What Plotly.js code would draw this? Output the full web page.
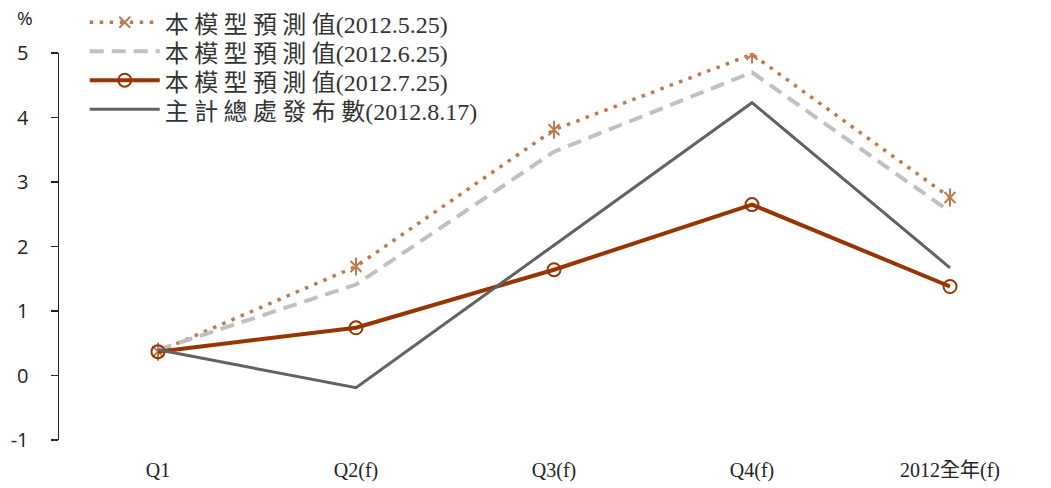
<!DOCTYPE html>
<html>
<head>
<meta charset="utf-8">
<script src="https://cdn.plot.ly/plotly-3.0.1.min.js"></script>
<style>
  html, body { margin: 0; padding: 0; background: #fff; }
  #chart { width: 1051px; height: 488px; }
</style>
</head>
<body>
<div id="chart"></div>
<script>
// 2012 quarterly GDP growth forecasts (%)
const categories = ['Q1', 'Q2(f)', 'Q3(f)', 'Q4(f)', '2012全年(f)'];

const seriesLabels = ['本模型預測值', '本模型預測值', '本模型預測值', '主計總處發布數'];
const seriesDates = ['(2012.5.25)', '(2012.6.25)', '(2012.7.25)', '(2012.8.17)'];

const model0525 = [0.37, 1.69, 3.81, 4.98, 2.76];
const model0625 = [0.40, 1.41, 3.47, 4.70, 2.54];
const model0725 = [0.37, 0.74, 1.64, 2.65, 1.38];
const dgbas0817 = [0.40, -0.19, 2.02, 4.23, 1.67];

const yTicks = [-1, 0, 1, 2, 3, 4, 5];

const serif = 'Liberation Serif, Times New Roman, Noto Sans CJK TC, serif';
const sans = 'Open Sans, DejaVu Sans, sans-serif';

// legend label: spaced-out CJK part followed by the release date
function legendName(i) {
  const label = seriesLabels[i];
  return '<span style="font-size:24px;baseline-shift:-3px">' +
    '<span style="letter-spacing:5.4px">' + label.slice(0, -1) + '</span>' +
    label.slice(-1) + seriesDates[i] + '</span>';
}

const orange = '#C0784E';

const traces = [
  {
    x: categories, y: model0525, name: legendName(0),
    type: 'scatter', mode: 'lines+markers', legendgroup: 'a',
    line: { color: orange, width: 3.5, dash: '3.5px,6.5px' },
    marker: { symbol: 'x-thin-open', size: 11, color: orange,
              line: { color: orange, width: 2 } }
  },
  {
    // vertical stroke completing the asterisk marker
    x: categories, y: model0525, name: legendName(0),
    type: 'scatter', mode: 'markers', legendgroup: 'a', showlegend: false,
    marker: { symbol: 'line-ns-open', size: 13, color: orange,
              line: { color: orange, width: 2 } }
  },
  {
    x: categories, y: model0625, name: legendName(1),
    type: 'scatter', mode: 'lines',
    line: { color: '#C0C0C2', width: 4, dash: '14px,8px' }
  },
  {
    x: categories, y: model0725, name: legendName(2),
    type: 'scatter', mode: 'lines+markers',
    line: { color: '#963500', width: 4 },
    marker: { symbol: 'circle-open', size: 13, color: '#963500',
              line: { color: '#963500', width: 2 } }
  },
  {
    x: categories, y: dgbas0817, name: legendName(3),
    type: 'scatter', mode: 'lines',
    line: { color: '#626262', width: 3 }
  }
];

const layout = {
  width: 1051,
  height: 488,
  margin: { l: 59, r: 2, t: 53, b: 48 },
  paper_bgcolor: '#ffffff',
  plot_bgcolor: '#ffffff',
  showlegend: true,
  legend: {
    x: 0.026, y: 1.13, xanchor: 'left', yanchor: 'top',
    bgcolor: 'rgba(0,0,0,0)',
    font: { family: serif, size: 20, color: '#333333' },
    itemwidth: 70,
    tracegroupgap: 0
  },
  xaxis: {
    type: 'category',
    categoryorder: 'array',
    categoryarray: categories,
    range: [-0.5, categories.length - 0.5],
    showline: false, showgrid: false, zeroline: false,
    ticks: '',
    ticklabelstandoff: 16,
    tickfont: { family: serif, size: 20, color: '#222222' }
  },
  // axis line with category-boundary ticks crossing at y = 0
  xaxis2: {
    overlaying: 'x',
    anchor: 'free',
    position: (0 - yTicks[0]) / (yTicks[yTicks.length - 1] - yTicks[0]),
    range: [-0.5, categories.length - 0.5],
    tickmode: 'array',
    tickvals: categories.map((c, i) => i + 0.5),
    showticklabels: false,
    showline: true, linecolor: '#222222', linewidth: 1.5,
    ticks: 'outside', ticklen: 6, tickwidth: 1.5, tickcolor: '#222222',
    showgrid: false, zeroline: false
  },
  yaxis: {
    range: [yTicks[0], yTicks[yTicks.length - 1]],
    tickmode: 'array',
    tickvals: yTicks,
    ticktext: yTicks.map(String),
    showline: true, linecolor: '#222222', linewidth: 1.5,
    ticks: 'outside', ticklen: 7, tickwidth: 1.5, tickcolor: '#222222',
    ticklabelstandoff: 18,
    showgrid: false, zeroline: false,
    tickfont: { family: sans, size: 20, color: '#222222' }
  },
  annotations: [
    {
      text: '%', xref: 'paper', yref: 'paper',
      x: -0.034, y: 1.09, xanchor: 'center', yanchor: 'middle',
      showarrow: false,
      font: { family: sans, size: 19, color: '#222222' }
    }
  ]
};

Plotly.newPlot('chart', traces, layout, { displayModeBar: false, staticPlot: true });
</script>
</body>
</html>
